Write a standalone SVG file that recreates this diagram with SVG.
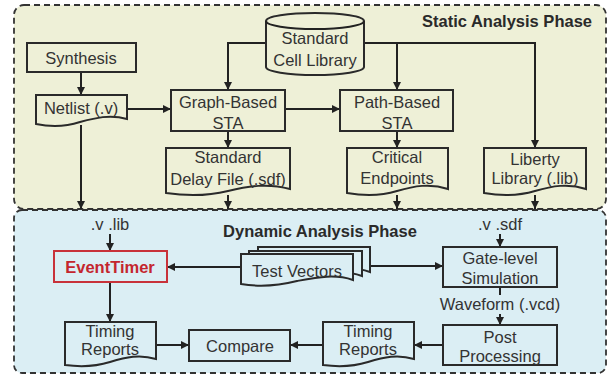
<svg xmlns="http://www.w3.org/2000/svg" width="610" height="375" viewBox="0 0 610 375">
<defs>
<marker id="ah" viewBox="0 0 10 10" refX="10" refY="5" markerWidth="9" markerHeight="8" markerUnits="userSpaceOnUse" orient="auto">
<path d="M0,0 L10,5 L0,10 z" fill="#222"/>
</marker>
</defs>
<style>
.phase{stroke:#333;stroke-width:1.8;stroke-dasharray:6,4}
.box{fill:none;stroke:#2a2a2a;stroke-width:2}
.doc{stroke:#2a2a2a;stroke-width:2}
.t{font-family:"Liberation Sans",Arial,sans-serif;font-size:16.5px;fill:#333;text-anchor:middle}
.b{font-weight:bold;fill:#2a2a2a}
.c{fill:none;stroke:#222;stroke-width:2}
.ca{fill:none;stroke:#222;stroke-width:2;marker-end:url(#ah)}
</style>
<g id="static-phase">
<rect x="14" y="5" width="592" height="204" rx="10" fill="#eef0d7" class="phase"/>
<text class="t b" x="592" y="27" text-anchor="end" style="text-anchor:end">Static Analysis Phase</text>
</g>
<g id="dynamic-phase">
<rect x="14" y="210" width="592" height="163" rx="8" fill="#dbeef4" class="phase"/>
<text class="t b" x="320" y="237">Dynamic Analysis Phase</text>
</g>
<g id="connectors">
<path class="ca" d="M81,72 V95"/>
<path class="ca" d="M127,109 H171"/>
<path class="ca" d="M285,109 H340"/>
<path class="ca" d="M266,43 H228 V90"/>
<path class="ca" d="M364,43 H535 V148"/>
<path class="ca" d="M397,43 V90"/>
<path class="ca" d="M228,131 V148"/>
<path class="ca" d="M397,131 V148"/>
<path class="ca" d="M81,125 V209"/>
<path class="ca" d="M228,195 V209"/>
<path class="ca" d="M397,195 V209"/>
<path class="ca" d="M535,195 V209"/>
<path class="ca" d="M110,234 V251"/>
<path class="ca" d="M500,234 V247"/>
<path class="ca" d="M241,267 H167"/>
<path class="ca" d="M370,266 H443"/>
<path class="c" d="M500,287 V295"/>
<path class="ca" d="M500,314 V325"/>
<path class="ca" d="M110,282 V322"/>
<path class="ca" d="M156,345 H189"/>
<path class="ca" d="M323,345 H290"/>
<path class="ca" d="M443,345 H414"/>
</g>
<g id="synthesis">
<rect class="box" x="27" y="43" width="109" height="29"/>
<text class="t" x="81" y="64">Synthesis</text>
</g>
<g id="netlist">
<path class="doc" fill="#eef0d7" d="M36,95 H127 V119 C110,114 95,118 80,122 C65,127 50,127 36,124 Z"/>
<text class="t" x="81" y="114">Netlist (.v)</text>
</g>
<g id="cell-library">
<path class="doc" fill="#eef0d7" d="M266,21 A49,8 0 0 1 364,21 V67 A49,8 0 0 1 266,67 Z"/>
<path class="c" d="M266,21 A49,8 0 0 0 364,21"/>
<text class="t" x="315" y="44">Standard</text>
<text class="t" x="315" y="66">Cell Library</text>
</g>
<g id="graph-sta">
<rect class="box" x="171" y="90" width="114" height="41"/>
<text class="t" x="228" y="108">Graph-Based</text>
<text class="t" x="228" y="129">STA</text>
</g>
<g id="path-sta">
<rect class="box" x="340" y="90" width="113" height="41"/>
<text class="t" x="397" y="108">Path-Based</text>
<text class="t" x="397" y="129">STA</text>
</g>
<g id="sdf">
<path class="doc" fill="#eef0d7" d="M166,148 H290 V189 C268,183 248,186 228,191 C208,196 186,196 166,193 Z"/>
<text class="t" x="228" y="163">Standard</text>
<text class="t" x="228" y="185">Delay File (.sdf)</text>
</g>
<g id="critical">
<path class="doc" fill="#eef0d7" d="M347,148 H448 V189 C430,183 414,186 397,191 C381,196 364,196 347,193 Z"/>
<text class="t" x="397" y="163">Critical</text>
<text class="t" x="397" y="184">Endpoints</text>
</g>
<g id="liberty">
<path class="doc" fill="#eef0d7" d="M484,148 H586 V189 C568,183 552,186 535,191 C518,196 501,196 484,193 Z"/>
<text class="t" x="535" y="165">Liberty</text>
<text class="t" x="535" y="184">Library (.lib)</text>
</g>
<g id="vlib-label">
<text class="t" x="110" y="230">.v .lib</text>
</g>
<g id="eventtimer">
<rect x="54" y="251" width="113" height="31" fill="none" stroke="#c8323a" stroke-width="2"/>
<text class="t b" x="110" y="273" style="fill:#c4262e">EventTimer</text>
</g>
<g id="test-vectors">
<path class="doc" fill="#dbeef4" d="M258,247 H370 V272 C352,266 336,269 314,273 C294,278 276,279 258,276 Z"/>
<path class="doc" fill="#dbeef4" d="M249,251 H362 V276 C344,270 328,273 306,277 C286,282 268,283 249,280 Z"/>
<path class="doc" fill="#dbeef4" d="M241,254 H353 V280 C335,274 319,277 297,281 C277,286 259,287 241,284 Z"/>
<text class="t" x="297" y="277">Test Vectors</text>
</g>
<g id="vsdf-label">
<text class="t" x="500" y="230">.v .sdf</text>
</g>
<g id="gate-sim">
<rect class="box" x="443" y="247" width="114" height="40"/>
<text class="t" x="500" y="264">Gate-level</text>
<text class="t" x="500" y="284">Simulation</text>
</g>
<g id="waveform-label">
<text class="t" x="500" y="310">Waveform (.vcd)</text>
</g>
<g id="post-processing">
<rect class="box" x="443" y="325" width="114" height="40"/>
<text class="t" x="500" y="343">Post</text>
<text class="t" x="500" y="362">Processing</text>
</g>
<g id="timing-right">
<path class="doc" fill="#dbeef4" d="M323,322 H414 V359 C398,354 384,357 368,362 C352,367 338,367 323,365 Z"/>
<text class="t" x="368" y="337">Timing</text>
<text class="t" x="368" y="355">Reports</text>
</g>
<g id="compare">
<rect class="box" x="189" y="330" width="101" height="31"/>
<text class="t" x="240" y="352">Compare</text>
</g>
<g id="timing-left">
<path class="doc" fill="#dbeef4" d="M65,322 H156 V359 C140,354 126,357 110,362 C94,367 80,367 65,365 Z"/>
<text class="t" x="110" y="337">Timing</text>
<text class="t" x="110" y="355">Reports</text>
</g>
</svg>
